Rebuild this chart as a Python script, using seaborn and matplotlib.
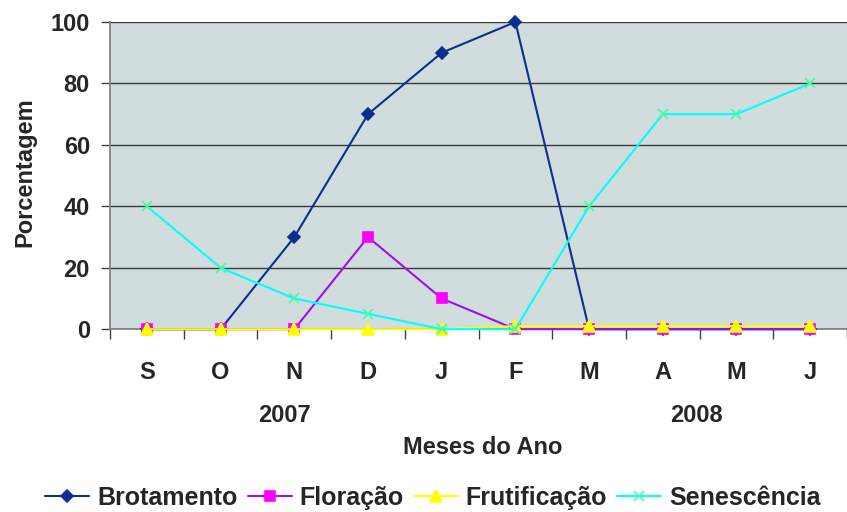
import matplotlib
matplotlib.use("Agg")
import matplotlib.pyplot as plt
import matplotlib.transforms as mtransforms
import seaborn as sns
import pandas as pd
import numpy as np

months = ["S", "O", "N", "D", "J", "F", "M", "A", "M", "J"]
years = ["2007", "2008"]
brotamento = [0, 0, 30, 70, 90, 100, 0, 0, 0, 0]
floracao = [0, 0, 0, 30, 10, 0, 0, 0, 0, 0]
frutificacao = [0, 0, 0, 0, 0, 1, 1, 1, 1, 1]
senescencia = [40, 20, 10, 5, 0, 0, 40, 70, 70, 80]
series_names = ["Brotamento", "Floração", "Frutificação", "Senescência"]

sns.set_theme(style="white")
plt.rcParams["font.family"] = ["Liberation Sans", "DejaVu Sans"]
plt.rcParams["font.weight"] = "bold"

pos = list(range(len(months)))
df = pd.DataFrame({
    "pos": pos * 4,
    "valor": brotamento + floracao + frutificacao + senescencia,
    "serie": sum([[n] * len(months) for n in series_names], []),
})

fig = plt.figure(figsize=(8.47, 5.12), dpi=100)
ax = fig.add_axes([0.130, 0.357, 0.870, 0.600])
ax.set_facecolor("#D1DCDC")

styles = {
    "Brotamento": dict(color="#0B2F8F", marker="D", mfc="#0B2F8F", mec="#0B2F8F", ms=6),
    "Floração": dict(color="#A010E8", marker="s", mfc="#FF00FF", mec="#FF00FF", ms=7),
    "Frutificação": dict(color="#FFFF00", marker="^", mfc="#FFFF00", mec="#FFFF00", ms=8),
    "Senescência": dict(color="#00FFFF", marker="x", mfc="#40FFA0", mec="#40FFA0", ms=7),
}

handles = []
for name in series_names:
    st = styles[name]
    sub = df[df["serie"] == name]
    n_before = len(ax.lines)
    sns.lineplot(data=sub, x="pos", y="valor", ax=ax, color=st["color"],
                 marker=st["marker"], markersize=st["ms"], linewidth=1.5,
                 markerfacecolor=st["mfc"], markeredgecolor=st["mec"],
                 markeredgewidth=1.2, legend=False, zorder=3, clip_on=False)
    ln = ax.lines[n_before]
    handles.append(ln)

ax.set_xlim(-0.5, len(months) - 0.5)
ax.set_ylim(0, 100)
ax.set_yticks([0, 20, 40, 60, 80, 100])
ax.yaxis.grid(True, color="#3a3a3a", linewidth=1.0)
ax.set_axisbelow(True)
for s in ["top", "right"]:
    ax.spines[s].set_visible(False)
ax.spines["left"].set_color("#808080")
ax.spines["bottom"].set_color("#808080")

ax.set_xticks(pos)
ax.set_xticklabels(months, fontsize=17, fontweight="bold")
ax.tick_params(axis="x", which="major", length=0, pad=23)
ax.set_xticks(np.arange(-0.5, len(months), 1.0), minor=True)
ax.tick_params(axis="x", which="minor", length=7, color="#404040", width=1, bottom=True)
ax.tick_params(axis="y", labelsize=17, length=6.5, color="#404040", left=True, width=1, pad=8)
for lbl in ax.get_yticklabels():
    lbl.set_fontweight("bold")

ax.set_xlabel("")
ax.set_ylabel("")
fig.text(25 / 847, 1 - 172 / 512, "Porcentagem", rotation=90, ha="center", va="center",
         fontsize=17, fontweight="bold")

trans = mtransforms.blended_transform_factory(ax.transData, fig.transFigure)
ax.text(1.86, 1 - 415 / 512, years[0], transform=trans, ha="center", va="center",
        fontsize=17, fontweight="bold")
ax.text(7.46, 1 - 415 / 512, years[1], transform=trans, ha="center", va="center",
        fontsize=17, fontweight="bold")
fig.text(483 / 847, 1 - 447 / 512, "Meses do Ano", ha="center", va="center",
         fontsize=17, fontweight="bold")

fig.legend(handles, series_names, loc="center", bbox_to_anchor=(433 / 847, 1 - 498 / 512),
           ncol=4, frameon=False, handlelength=1.76, handletextpad=0.32,
           columnspacing=0.4, borderpad=0.2, prop={"weight": "bold", "size": 18})

fig.savefig("out.png", dpi=100)
